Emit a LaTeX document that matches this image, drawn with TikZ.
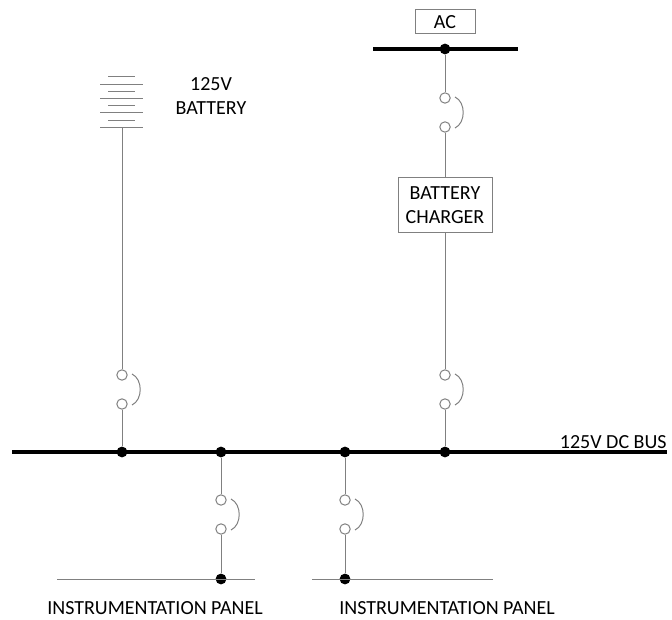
\documentclass[tikz,border=0pt]{standalone}
\usepackage{fontspec}
\setmainfont{Carlito}
\usetikzlibrary{calc}

\tikzset{
	wire/.style={gray, line width=0.5pt},
	bus/.style={black, line width=1.6pt},
	dot/.style={circle, fill=black, inner sep=0pt, minimum size=5.4pt},
	fusering/.style={circle, draw=gray, line width=0.5pt, inner sep=0pt, minimum size=5.2pt, fill=white},
	box/.style={draw=gray, line width=0.5pt, inner sep=0pt, align=center},
	lbl/.style={font=\fontsize{10}{12}\selectfont, align=center, inner sep=0pt}
}

% fuse: name, x, y of upper ring
\newcommand{\fusepair}[3]{%
	\node[fusering] (#1a) at (#2,#3) {};
	\node[fusering] (#1b) at (#2,#3+29) {};
	\draw[wire] ($(#1a)+(10,-1)$) to[bend left=65] ($(#1b)+(10,1)$);
}

\begin{document}
\begin{tikzpicture}[x=0.5pt, y=-0.5pt]
	\useasboundingbox (0,0) rectangle (672,619);
	
	% battery
	\foreach \y in {85,99,113,128}
	\draw[gray, line width=0.5pt] (100,\y) -- (143,\y);
	\foreach \y in {77,92,106,121}
	\draw[gray, line width=0.5pt] (108,\y) -- (135,\y);
	\coordinate (bat) at (122,128);
	\node[lbl] (batlbl) at (211,96) {125V\\BATTERY};
	
	% buses
	\draw[bus] (373,49) -- (518,49);
	\draw[bus] (12,452) -- (667,452);
	\node[lbl, anchor=south east] (buslbl) at (667,449) {125V DC BUS};
	
	\node[dot] (acdot) at (445,49) {};
	\node[dot] (d1) at (122,452) {};
	\node[dot] (d2) at (221,452) {};
	\node[dot] (d3) at (345,452) {};
	\node[dot] (d4) at (445,452) {};
	
	% AC supply and charger
	\node[box, lbl, minimum width=30pt, minimum height=12pt] (ac) at (445,22) {AC};
	\node[box, lbl, minimum width=47pt, minimum height=27.5pt] (charger) at (445,205.5) {BATTERY\\CHARGER};
	
	% fuses
	\fusepair{f1}{122}{375}
	\fusepair{f2}{221}{500}
	\fusepair{f3}{345}{500}
	\fusepair{f4}{445}{98}
	\fusepair{f5}{445}{375}
	
	% panels
	\node[dot] (p2) at (221,579) {};
	\node[dot] (p3) at (345,579) {};
	\coordinate (p2l) at (57,579);
	\coordinate (p2r) at (255,579);
	\coordinate (p3l) at (312,579);
	\coordinate (p3r) at (493,579);
	\draw[wire] (p2l) -- (p2r);
	\draw[wire] (p3l) -- (p3r);
	\node[lbl] (panel2) at (155,608) {INSTRUMENTATION PANEL};
	\node[lbl] (panel3) at (447,608) {INSTRUMENTATION PANEL};
	
	% branches
	\draw[wire] (bat) -- (f1a);
	\draw[wire] (f1b) -- (d1);
	\draw[wire] (acdot) -- (f4a);
	\draw[wire] (f4b) -- (charger);
	\draw[wire] (charger) -- (f5a);
	\draw[wire] (f5b) -- (d4);
	\draw[wire] (d2) -- (f2a);
	\draw[wire] (f2b) -- (p2);
	\draw[wire] (d3) -- (f3a);
	\draw[wire] (f3b) -- (p3);
\end{tikzpicture}
\end{document}
